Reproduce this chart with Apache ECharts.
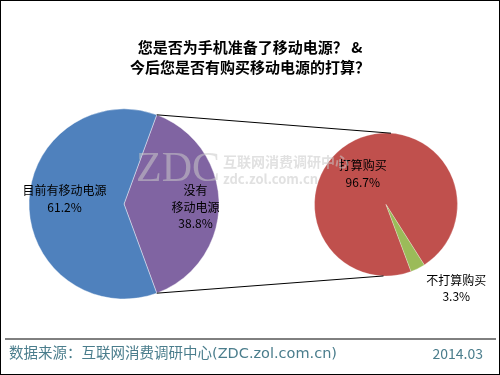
<!DOCTYPE html>
<html><head><meta charset="utf-8">
<script src="https://cdn.jsdelivr.net/npm/echarts@6/dist/echarts.min.js"></script>
<style>html,body{margin:0;padding:0;background:#fff}#c{width:500px;height:375px;box-sizing:border-box;border:1px solid #000}</style>
</head><body><div id="c"></div>
<script>
const titleLines = ['您是否为手机准备了移动电源？ &', '今后您是否有购买移动电源的打算？'];
const leftNames = ['没有\n移动电源', '目前有移动电源'];
const leftValues = [38.8, 61.2];
const rightNames = ['打算购买', '不打算购买'];
const rightValues = [96.7, 3.3];
const sourceText = '数据来源：互联网消费调研中心(ZDC.zol.com.cn)';
const dateText = '2014.03';

const FONT = '"Noto Sans CJK SC", "Noto Sans", sans-serif';
const chart = echarts.init(document.getElementById('c'), null, {renderer: 'canvas'});
// geometry (layout)
const L = {cx: 123, cy: 203, r: 95};
const R = {cx: 385, cy: 203.5, r: 71.5};
const leftStart = leftValues[0] / 100 * 360 / 2; // purple centred on 3 o'clock
const rightStart = -69.5;

function pt(c, deg, r) {
  const a = deg * Math.PI / 180;
  return [c.cx + r * Math.cos(a), c.cy - r * Math.sin(a)];
}
const lt = pt(L, leftStart, L.r), lb = pt(L, -leftStart, L.r);
const rt = pt(R, 86, R.r), rb = pt(R, -92, R.r);

const lblStyle = {color: '#000', fontSize: 12, fontFamily: FONT, lineHeight: 16.5};
chart.setOption({
  animation: false,
  title: {
    text: titleLines.join('\n'), left: 'center', top: 31, itemGap: 0,
    textStyle: {fontSize: 15, fontWeight: 'bold', color: '#000', fontFamily: FONT, lineHeight: 20}
  },
  color: ['#8064A2', '#4F81BD'],
  series: [
    {
      type: 'pie', center: [L.cx, L.cy], radius: [0, L.r], startAngle: leftStart, clockwise: true,
      silent: true,
      itemStyle: {borderColor: 'rgba(255,255,255,0.5)', borderWidth: 0.8},
      label: Object.assign({position: 'inside', formatter: p => p.name + '\n' + p.value.toFixed(1) + '%'}, lblStyle),
      labelLine: {show: false},
      data: [
        {name: leftNames[0], value: leftValues[0], itemStyle: {color: '#8064A2'}, label: {offset: [21, 3]}},
        {name: leftNames[1], value: leftValues[1], itemStyle: {color: '#4F81BD'}, label: {offset: [-9, -5]}}
      ]
    },
    {
      type: 'pie', center: [R.cx, R.cy], radius: [0, R.r], startAngle: rightStart, clockwise: true,
      silent: true,
      itemStyle: {borderColor: 'rgba(255,255,255,0.5)', borderWidth: 0.5},
      label: Object.assign({position: 'inside', formatter: p => p.name + '\n' + p.value.toFixed(1) + '%'}, lblStyle),
      labelLine: {show: false},
      data: [
        {name: rightNames[0], value: rightValues[0], itemStyle: {color: '#C0504D'}, label: {offset: [-6, 4]}},
        {name: rightNames[1], value: rightValues[1], itemStyle: {color: '#9BBB59'}, label: {offset: [53, 49]}}
      ]
    }
  ],
  graphic: [
    {type: 'line', z: 10, shape: {x1: lt[0], y1: lt[1], x2: rt[0], y2: rt[1]}, style: {stroke: '#000', lineWidth: 1}},
    {type: 'line', z: 10, shape: {x1: lb[0], y1: lb[1], x2: rb[0], y2: rb[1]}, style: {stroke: '#000', lineWidth: 1}},
    {type: 'text', z: 20, left: 135, top: 148, style: {text: 'ZDC', fontSize: 42, fontFamily: '"Liberation Serif", serif', fill: 'rgba(200,200,200,0.55)'}},
    {type: 'text', z: 20, left: 222, top: 154, style: {text: '互联网消费调研中心', fontSize: 14, fontWeight: 'bold', fontFamily: FONT, fill: 'rgba(200,200,200,0.55)'}},
    {type: 'text', z: 20, left: 222, top: 172, style: {text: 'zdc.zol.com.cn', fontSize: 13, fontWeight: 'bold', fontFamily: FONT, fill: 'rgba(200,200,200,0.55)'}},
    {type: 'line', shape: {x1: 4, y1: 338, x2: 495, y2: 338}, style: {stroke: '#000', lineWidth: 1}},
    {type: 'text', left: 8, top: 346, style: {text: sourceText, fontSize: 14.5, fontFamily: '"DejaVu Sans", "Noto Sans CJK SC", sans-serif', fill: '#4a7d8c'}},
    {type: 'text', right: 16, top: 346, style: {text: dateText, fontSize: 14, fontFamily: FONT, fill: '#4a7d8c'}}
  ]
});
</script></body></html>
